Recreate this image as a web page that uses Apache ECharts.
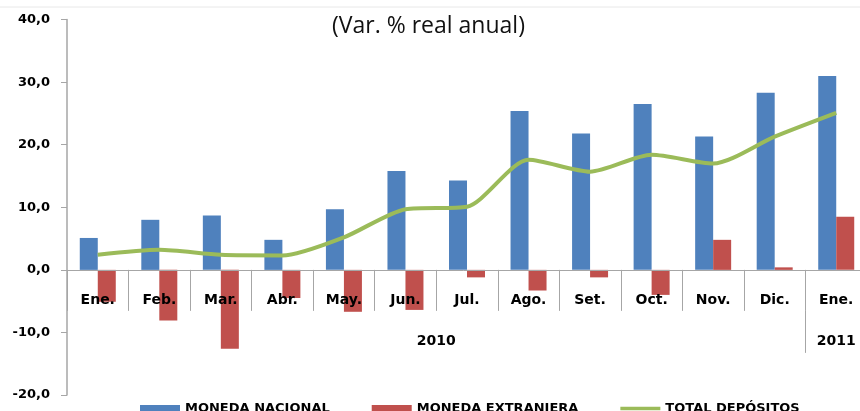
<!DOCTYPE html>
<html>
<head>
<meta charset="utf-8">
<script src="https://cdn.jsdelivr.net/npm/echarts@6/dist/echarts.min.js"></script>
<style>
  html, body { margin: 0; padding: 0; background: #fff; }
  #main { width: 860px; height: 411px; }
</style>
</head>
<body>
<div id="main"></div>
<script>
// data
var months = ["Ene.", "Feb.", "Mar.", "Abr.", "May.", "Jun.", "Jul.", "Ago.", "Set.", "Oct.", "Nov.", "Dic.", "Ene."];
var years = ["2010", "2011"];
var yearMonths = [12, 1];
var monedaNacional = [5.1, 8.0, 8.7, 4.8, 9.7, 15.8, 14.3, 25.4, 21.8, 26.5, 21.3, 28.3, 31.0];
var monedaExtranjera = [-5.1, -8.1, -12.6, -4.5, -6.7, -6.4, -1.2, -3.3, -1.2, -4.0, 4.8, 0.4, 8.5];
var totalDepositos = [2.4, 3.2, 2.4, 2.3, 5.2, 9.7, 10.1, 17.6, 15.7, 18.4, 17.0, 21.3, 25.1];

// year label positions / separators from month counts
var yearCenters = [], yearBreaks = [], acc = 0;
yearMonths.forEach(function (n, i) {
  yearCenters.push(acc + n / 2);
  acc += n;
  if (i < yearMonths.length - 1) yearBreaks.push(acc);
});

var W = 860, H = 411;
var gridTop = 19.6, gridBottom = 16;
var yMin = -20, yMax = 40;
var gridH = H - gridTop - gridBottom;
var zeroFromBottom = gridH * (0 - yMin) / (yMax - yMin);

var tickFont = "DejaVu Sans";
var myChart = echarts.init(document.getElementById("main"));

var option = {
  animation: false,
  title: {
    text: "(Var. % real anual)",
    left: 327,
    top: 10,
    textStyle: { fontFamily: "Open Sans", fontWeight: "normal", fontSize: 23, color: "#111" }
  },
  graphic: [{
    type: "line",
    shape: { x1: 0, y1: 7, x2: W, y2: 7 },
    style: { stroke: "#e8e8e8", lineWidth: 1 },
    silent: true
  }],
  grid: { left: 67, right: -7, top: gridTop, bottom: gridBottom, containLabel: false, outerBoundsMode: "none" },
  legend: {
    left: 135,
    top: 397,
    itemWidth: 40,
    itemHeight: 7,
    itemGap: 42,
    textStyle: { fontFamily: tickFont, fontWeight: "bold", fontSize: 13, color: "#000" },
    data: [
      { name: "MONEDA NACIONAL", icon: "rect" },
      { name: "MONEDA EXTRANJERA", icon: "rect" },
      { name: "TOTAL DEPÓSITOS", icon: "path://M0,0 L0,0 M0,1.5 L47,1.5 L47,5.5 L0,5.5 Z M0,7 L0,7" }
    ]
  },
  xAxis: [
    {
      type: "category",
      data: months,
      boundaryGap: true,
      position: "bottom",
      offset: -zeroFromBottom,
      z: 4,
      axisLine: { onZero: false, lineStyle: { color: "#a6a6a6", width: 1 } },
      axisTick: { show: true, interval: 0, length: 41, lineStyle: { color: "#a6a6a6" } },
      axisLabel: { interval: 0, margin: 23, fontFamily: tickFont, fontWeight: "bold", fontSize: 14, color: "#000" },
      splitLine: { show: false }
    },
    {
      type: "value",
      min: 0,
      max: months.length,
      position: "bottom",
      offset: -(zeroFromBottom - 41),
      axisLine: { show: false, onZero: false },
      axisTick: { show: true, customValues: yearBreaks, length: 42, lineStyle: { color: "#a6a6a6" } },
      axisLabel: {
        customValues: yearCenters,
        margin: 23,
        fontFamily: tickFont, fontWeight: "bold", fontSize: 14, color: "#000",
        formatter: function (v) {
          var i = yearCenters.indexOf(v);
          return i >= 0 ? years[i] : "";
        }
      },
      splitLine: { show: false }
    }
  ],
  yAxis: {
    type: "value",
    min: yMin,
    max: yMax,
    interval: 10,
    axisLine: { show: true, lineStyle: { color: "#a6a6a6", width: 1.5 } },
    axisTick: { show: true, length: 6, lineStyle: { color: "#a6a6a6" } },
    axisLabel: {
      margin: 17,
      fontFamily: tickFont, fontWeight: "bold", fontSize: 13, color: "#000",
      formatter: function (v) { return v.toFixed(1).replace(".", ","); }
    },
    splitLine: { show: false }
  },
  series: [
    {
      name: "MONEDA NACIONAL",
      type: "bar",
      data: monedaNacional,
      barWidth: 18,
      barGap: "0%",
      itemStyle: { color: "#4f81bd" }
    },
    {
      name: "MONEDA EXTRANJERA",
      type: "bar",
      data: monedaExtranjera,
      barWidth: 18,
      barGap: "0%",
      itemStyle: { color: "#c0504d" }
    },
    {
      name: "TOTAL DEPÓSITOS",
      type: "line",
      data: totalDepositos,
      smooth: 0.25,
      symbol: "none",
      lineStyle: { color: "#9bbb59", width: 4 },
      itemStyle: { color: "#9bbb59" },
      z: 5
    }
  ]
};

myChart.setOption(option);
</script>
</body>
</html>
